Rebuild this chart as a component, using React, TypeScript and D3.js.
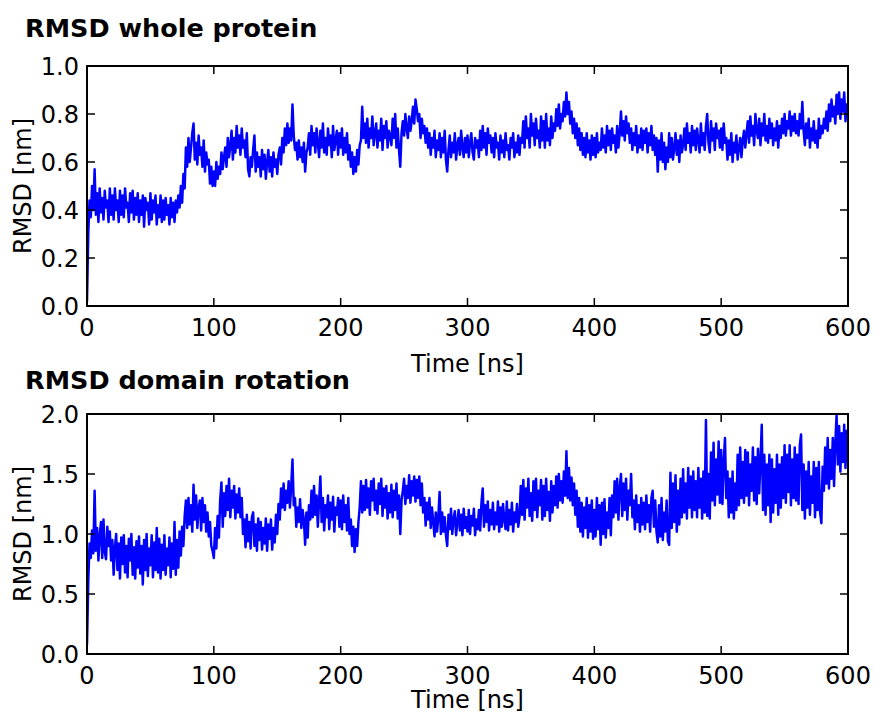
import React from 'react';
import * as d3 from 'd3';

// Sampling: one value per ns, 0..600 ns
const timeNs: number[] = d3.range(0, 601);

// RMSD of the whole protein [nm]
const wholeProtein: number[] = [
  0.02,.30,.44,.37,.50,.40,.57,.38,.47,.35,.49,.39,.45,.36,.48,.41,.44,.35,.49,.38,
  .46,.36,.49,.40,.44,.35,.48,.38,.46,.37,.49,.41,.43,.35,.47,.39,.48,.36,.45,.38,
  .47,.35,.44,.38,.46,.33,.45,.40,.43,.34,.47,.36,.44,.39,.46,.34,.42,.37,.46,.35,
  .44,.36,.45,.38,.42,.34,.45,.37,.43,.35,.44,.39,.46,.41,.50,.43,.55,.49,.66,.58,
  .70,.60,.66,.72,.76,.61,.68,.59,.71,.63,.66,.58,.69,.56,.64,.59,.61,.51,.58,.50,
  .56,.50,.60,.53,.58,.55,.64,.57,.62,.66,.58,.70,.62,.67,.73,.61,.70,.64,.75,.66,
  .71,.63,.74,.66,.69,.62,.72,.57,.54,.62,.58,.65,.71,.56,.64,.58,.62,.54,.65,.57,
  .63,.53,.60,.65,.56,.62,.54,.64,.58,.61,.55,.63,.66,.59,.70,.64,.74,.67,.76,.68,
  .74,.69,.84,.71,.65,.68,.61,.69,.62,.66,.60,.68,.56,.64,.66,.72,.63,.75,.67,.72,
  .64,.74,.68,.62,.73,.66,.76,.64,.70,.63,.74,.67,.71,.62,.75,.65,.69,.73,.63,.72,
  .66,.74,.63,.70,.64,.72,.61,.67,.58,.64,.55,.62,.56,.65,.59,.67,.69,.83,.70,.76,
  .68,.78,.66,.74,.70,.79,.67,.72,.76,.66,.73,.69,.78,.65,.75,.70,.77,.66,.73,.71,
  .67,.78,.70,.80,.66,.74,.65,.58,.72,.77,.71,.80,.74,.70,.79,.73,.77,.83,.76,.86,
  .82,.77,.80,.70,.78,.72,.75,.68,.74,.66,.72,.63,.70,.66,.73,.62,.69,.65,.72,.62,
  .70,.64,.73,.61,.56,.65,.71,.62,.68,.64,.72,.61,.67,.70,.63,.73,.66,.62,.70,.64,
  .71,.62,.68,.72,.64,.61,.70,.66,.69,.62,.73,.65,.75,.66,.72,.63,.74,.68,.71,.64,
  .70,.62,.72,.66,.68,.61,.71,.64,.69,.62,.72,.65,.67,.61,.70,.66,.72,.62,.68,.64,
  .71,.63,.70,.68,.77,.66,.79,.70,.74,.66,.80,.71,.76,.67,.78,.70,.73,.66,.79,.69,
  .77,.66,.80,.69,.74,.67,.79,.70,.76,.73,.82,.75,.84,.74,.80,.77,.85,.79,.89,.80,
  .85,.76,.81,.72,.78,.70,.76,.67,.74,.65,.72,.63,.70,.62,.72,.64,.69,.61,.71,.63,
  .70,.62,.72,.64,.68,.65,.74,.66,.71,.64,.75,.67,.73,.65,.74,.68,.71,.64,.75,.66,
  .72,.81,.71,.77,.69,.79,.72,.76,.68,.74,.65,.72,.67,.75,.64,.71,.66,.74,.65,.73,
  .68,.74,.64,.72,.67,.75,.65,.71,.63,.70,.56,.69,.61,.72,.60,.68,.57,.66,.60,.72,
  .62,.70,.61,.66,.72,.63,.69,.60,.71,.64,.67,.74,.65,.76,.68,.72,.64,.75,.67,.73,
  .65,.74,.69,.64,.76,.67,.72,.65,.75,.80,.68,.64,.77,.69,.74,.65,.76,.70,.73,.66,
  .74,.65,.76,.68,.70,.61,.69,.63,.72,.60,.68,.64,.71,.61,.66,.70,.62,.69,.73,.66,
  .72,.77,.68,.79,.71,.75,.67,.80,.73,.70,.78,.67,.76,.71,.80,.69,.75,.68,.78,.70,
  .76,.67,.74,.69,.77,.66,.75,.70,.78,.72,.80,.71,.77,.74,.81,.71,.79,.73,.80,.72,
  .77,.71,.80,.74,.85,.73,.67,.76,.70,.78,.66,.74,.69,.77,.68,.73,.66,.78,.70,.75,
  .72,.78,.74,.81,.73,.84,.77,.86,.79,.83,.76,.88,.80,.89,.78,.86,.81,.89,.77,.84,
  .80,
];

// RMSD of the domain rotation [nm]
const domainRotation: number[] = [
  .08,.60,.92,.80,1.03,.84,1.36,.86,1.05,.78,.98,1.10,.80,1.12,.85,.79,1.06,.90,1.02,.78,
  .95,.66,.88,1.00,.70,.92,.63,.97,.75,.99,.68,.90,.64,.96,.78,1.00,.66,.89,.63,.94,
  .72,.98,.67,.90,.58,.95,.70,1.00,.65,.88,.74,.99,.64,.93,.70,1.05,.68,.96,.63,.91,
  .70,.99,.66,.88,.74,.97,.64,.92,.71,1.10,.66,.95,.72,1.02,.82,1.06,.90,1.15,1.28,1.05,
  1.30,1.08,1.24,1.02,1.41,1.12,1.32,1.05,1.22,1.28,1.03,1.30,1.10,1.24,1.02,1.18,.98,1.10,.90,.86,
  .80,1.05,.88,1.15,.97,1.28,1.43,1.06,1.34,1.15,1.40,1.20,1.46,1.14,1.36,1.22,1.40,1.13,1.33,1.18,
  1.38,1.14,1.30,1.00,1.12,.89,1.16,.94,1.10,.88,1.14,1.18,.90,1.08,.86,1.13,.95,1.10,.87,1.05,
  .92,1.13,.86,1.08,.96,1.12,.87,1.05,.93,1.16,1.00,1.25,1.12,1.38,1.22,1.42,1.20,1.36,1.26,1.44,
  1.22,1.40,1.62,1.24,1.30,1.06,1.22,1.10,1.29,1.05,1.20,1.12,.91,1.18,.97,1.24,1.12,1.36,1.14,1.40,
  1.16,1.32,1.06,1.28,1.48,1.10,1.30,1.03,1.24,1.14,1.32,1.04,1.26,1.12,1.31,1.02,1.22,1.16,1.30,1.06,
  1.28,1.04,1.32,1.10,1.24,1.03,1.30,1.00,1.12,.90,1.06,.85,1.04,.90,1.10,1.22,1.44,1.18,1.40,1.20,
  1.45,1.22,1.38,1.16,1.44,1.28,1.46,1.20,1.36,1.17,1.42,1.25,1.46,1.15,1.38,1.22,1.40,1.13,1.34,1.18,
  1.41,1.14,1.36,1.20,1.42,1.13,1.32,1.00,1.28,1.36,1.46,1.25,1.40,1.30,1.49,1.26,1.44,1.32,1.48,1.27,
  1.45,1.30,1.48,1.24,1.42,1.18,1.30,1.07,1.26,1.12,1.30,1.05,1.22,1.10,.98,1.18,1.02,1.14,1.35,1.00,
  1.18,1.02,1.14,.99,.90,1.16,1.04,1.21,1.00,1.12,1.19,.99,1.10,1.20,1.03,1.16,.99,1.21,1.05,1.14,
  1.02,1.20,1.00,1.15,1.07,1.21,.99,1.12,1.04,1.20,1.03,1.26,1.38,1.06,1.24,1.10,1.27,1.03,1.20,1.08,
  1.26,1.04,1.18,1.08,1.27,1.02,1.22,1.06,1.25,1.12,1.04,1.27,1.03,1.20,1.08,1.26,1.02,1.18,1.10,1.25,
  1.06,1.14,1.40,1.16,1.45,1.12,1.38,1.22,1.46,1.15,1.34,1.11,1.44,1.20,1.46,1.14,1.36,1.24,1.45,1.12,
  1.40,1.15,1.46,1.20,1.35,1.11,1.44,1.18,1.40,1.24,1.48,1.22,1.50,1.28,1.44,1.26,1.52,1.32,1.69,1.30,
  1.55,1.28,1.47,1.24,1.42,1.16,1.36,1.06,1.30,1.02,1.26,.98,1.22,1.05,1.30,.97,1.24,1.02,1.28,.96,
  1.20,.98,1.30,1.04,1.24,.91,1.26,1.00,1.29,.97,1.18,1.05,1.30,.99,1.32,1.14,1.44,1.18,1.46,1.12,
  1.38,1.50,1.15,1.42,1.20,1.46,1.12,1.36,1.24,1.50,1.14,1.28,1.04,1.32,1.10,1.24,1.02,1.30,1.08,1.26,
  1.04,1.32,1.10,1.24,1.02,1.30,1.36,1.06,1.28,1.02,.93,1.24,.98,1.30,.95,1.18,1.02,1.28,.94,.91,
  1.51,1.05,1.42,1.10,1.49,1.02,1.36,1.08,1.46,1.14,1.54,1.18,1.42,1.13,1.55,1.22,1.48,1.14,1.52,1.20,
  1.44,1.14,1.55,1.22,1.46,1.13,1.52,1.18,1.95,1.15,1.50,1.13,1.68,1.28,1.76,1.24,1.62,1.33,1.77,1.26,
  1.70,1.25,1.60,1.80,1.30,1.52,1.14,1.46,1.18,1.52,1.13,1.42,1.20,1.66,1.24,1.72,1.30,1.60,1.26,1.70,
  1.32,1.68,1.24,1.58,1.36,1.72,1.28,1.64,1.25,1.71,1.34,1.62,1.91,1.20,1.66,1.16,1.58,1.24,1.66,1.10,
  1.62,1.18,1.54,1.26,1.66,1.16,1.58,1.22,1.64,1.30,1.74,1.26,1.66,1.35,1.74,1.24,1.62,1.30,1.72,1.28,
  1.66,1.25,1.74,1.83,1.20,1.58,1.13,1.52,1.22,1.60,1.16,1.48,1.26,1.60,1.14,1.55,1.20,1.60,1.18,1.09,
  1.56,1.36,1.72,1.42,1.80,1.38,1.70,1.46,1.80,1.40,1.76,1.99,1.58,1.90,1.52,1.84,1.60,1.91,1.55,1.86,
  1.60,
];

const xTicks: number[] = [0, 100, 200, 300, 400, 500, 600];
const yTicksWhole: number[] = [0, 0.2, 0.4, 0.6, 0.8, 1.0];
const yTicksDomain: number[] = [0, 0.5, 1.0, 1.5, 2.0];
const titles: string[] = ['RMSD whole protein', 'RMSD domain rotation'];
const xLabel = 'Time [ns]';
const yLabel = 'RMSD [nm]';

const W = 874;
const H = 713;
const FONT = '"DejaVu Sans", sans-serif';

interface PanelProps {
  id: string;
  title: string;
  values: number[];
  yMax: number;
  yTicks: number[];
  top: number;
  bottom: number;
  titleBaseline: number;
  xLabelBaseline: number;
}

function Panel({ id, title, values, yMax, yTicks, top, bottom, titleBaseline, xLabelBaseline }: PanelProps) {
  const left = 87;
  const right = 848;
  const x = d3.scaleLinear().domain([0, 600]).range([left, right]);
  const y = d3.scaleLinear().domain([0, yMax]).range([bottom, top]);
  const line = d3
    .line<number>()
    .x((_, i) => x(timeNs[i]))
    .y((d) => y(d));
  const tick = 8;
  const fmtY = d3.format('.1f');
  return (
    <g>
      <defs>
        <clipPath id={id}>
          <rect x={left} y={top} width={right - left} height={bottom - top} />
        </clipPath>
      </defs>
      <text x={25} y={titleBaseline} fontFamily={FONT} fontWeight="bold" fontSize={25.5} fill="#000">
        {title}
      </text>
      <path
        d={line(values) || ''}
        fill="none"
        stroke="#0000ff"
        strokeWidth={2.5}
        strokeLinejoin="round"
        strokeLinecap="round"
        clipPath={`url(#${id})`}
      />
      {xTicks.map((t) => (
        <g key={'x' + t}>
          <line x1={x(t)} x2={x(t)} y1={bottom} y2={bottom - tick} stroke="#000" strokeWidth={1.5} />
          <line x1={x(t)} x2={x(t)} y1={top} y2={top + tick} stroke="#000" strokeWidth={1.5} />
          <text x={x(t)} y={bottom + 29.5} textAnchor="middle" fontFamily={FONT} fontSize={24} fill="#000">
            {t}
          </text>
        </g>
      ))}
      {yTicks.map((v) => (
        <g key={'y' + v}>
          <line x1={left} x2={left + tick} y1={y(v)} y2={y(v)} stroke="#000" strokeWidth={1.5} />
          <line x1={right} x2={right - tick} y1={y(v)} y2={y(v)} stroke="#000" strokeWidth={1.5} />
          <text x={left - 8} y={y(v) + 8.7} textAnchor="end" fontFamily={FONT} fontSize={24} fill="#000">
            {fmtY(v)}
          </text>
        </g>
      ))}
      <rect x={left} y={top} width={right - left} height={bottom - top} fill="none" stroke="#000" strokeWidth={2} />
      <text x={(left + right) / 2} y={xLabelBaseline} textAnchor="middle" fontFamily={FONT} fontSize={24} fill="#000">
        {xLabel}
      </text>
      <text
        transform={`translate(31,${(top + bottom) / 2}) rotate(-90)`}
        textAnchor="middle"
        fontFamily={FONT}
        fontSize={24}
        fill="#000"
      >
        {yLabel}
      </text>
    </g>
  );
}

export default function App() {
  return (
    <div style={{ position: 'absolute', left: 0, top: 0, width: W, height: H, background: '#fff' }}>
      <svg width={W} height={H} viewBox={`0 0 ${W} ${H}`} style={{ display: 'block' }}>
        <rect x={0} y={0} width={W} height={H} fill="#fff" />
        <Panel
          id="clipTop"
          title={titles[0]}
          values={wholeProtein}
          yMax={1.0}
          yTicks={yTicksWhole}
          top={66}
          bottom={306}
          titleBaseline={37}
          xLabelBaseline={372}
        />
        <Panel
          id="clipBottom"
          title={titles[1]}
          values={domainRotation}
          yMax={2.0}
          yTicks={yTicksDomain}
          top={414}
          bottom={654}
          titleBaseline={389}
          xLabelBaseline={708}
        />
      </svg>
    </div>
  );
}
